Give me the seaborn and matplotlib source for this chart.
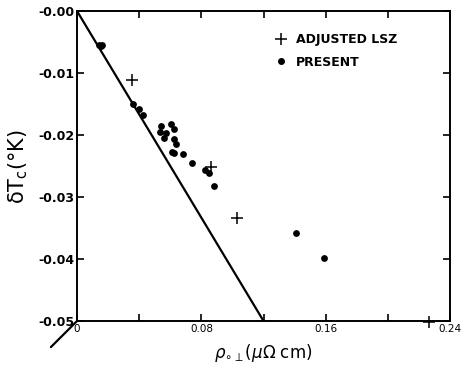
import matplotlib
matplotlib.use("Agg")
import matplotlib.pyplot as plt
import seaborn as sns
import pandas as pd
from matplotlib.lines import Line2D

# Data
present_x = [0.014, 0.0152, 0.016, 0.036, 0.040, 0.0425, 0.0542, 0.0533, 0.057, 0.0559,
             0.0606, 0.0623, 0.0627, 0.0634, 0.0613, 0.0623, 0.068, 0.0738, 0.0821,
             0.0847, 0.0879, 0.1406, 0.159]
present_y = [-0.0055, -0.0057, -0.0055, -0.01505, -0.01585, -0.0168, -0.01855, -0.01946,
             -0.0197, -0.0205, -0.01823, -0.0191, -0.0206, -0.0215, -0.0227, -0.02296,
             -0.0231, -0.02446, -0.02565, -0.0262, -0.0282, -0.0358, -0.0398]
lsz_x = [0.0352, 0.0864, 0.103, 0.2266]
lsz_y = [-0.0111, -0.0251, -0.0334, -0.0502]
line_x = [0.0, 0.12]
line_y = [0.0, -0.05]
xticks = [0, 0.04, 0.08, 0.12, 0.16, 0.20, 0.24]
xtick_labels = ["0", "", "0.08", "", "0.16", "", "0.24"]
yticks = [0.0, -0.01, -0.02, -0.03, -0.04, -0.05]
ytick_labels = ["-0.00", "-0.01", "-0.02", "-0.03", "-0.04", "-0.05"]

sns.set_style("ticks")
plt.rcParams['font.family'] = ['DejaVu Sans']
plt.rcParams.update({"text.color": "black", "axes.labelcolor": "black",
                     "xtick.color": "black", "ytick.color": "black",
                     "axes.edgecolor": "black"})

fig = plt.figure(figsize=(4.64, 3.69), dpi=100)
ax = fig.add_axes([0.166, 0.130, 0.804, 0.840])

df_p = pd.DataFrame({"x": present_x, "y": present_y})
df_l = pd.DataFrame({"x": lsz_x, "y": lsz_y})
df_line = pd.DataFrame({"x": line_x, "y": line_y})

sns.lineplot(data=df_line, x="x", y="y", ax=ax, color="black", linewidth=1.6)
sns.scatterplot(data=df_p, x="x", y="y", ax=ax, color="black", marker="o", s=24,
                edgecolor="black", linewidth=0, zorder=3)
sns.scatterplot(data=df_l, x="x", y="y", ax=ax, color="black", marker="+", s=80,
                linewidth=1.1, zorder=3, clip_on=False)

ax.set_xlim(0, 0.24)
ax.set_ylim(-0.05, 0.0)
ax.set_xticks(xticks)
ax.set_xticklabels(xtick_labels, fontsize=7.5)
ax.set_yticks(yticks)
ax.set_yticklabels(ytick_labels, fontsize=9, fontweight="bold")
ax.tick_params(direction="in", length=5, width=1.2, top=True, right=True, pad=2)
for s in ax.spines.values():
    s.set_linewidth(1.4)

ax.set_xlabel(r"$\rho_{\circ\perp}(\mu\Omega$ cm)", fontsize=12, labelpad=6)
ax.set_ylabel("δT$_\\mathregular{c}$(°K)", fontsize=15, labelpad=6)

# stub line at lower-left corner
ax.plot([0, -0.07], [0, -0.084], transform=ax.transAxes, color="black",
        linewidth=1.6, clip_on=False)

handles = [Line2D([], [], color="black", marker="+", linestyle="none", markersize=9,
                  markeredgewidth=1.1),
           Line2D([], [], color="black", marker="o", linestyle="none", markersize=4)]
ax.legend(handles, ["ADJUSTED LSZ", "PRESENT"], loc="upper left",
          bbox_to_anchor=(0.5, 0.965), frameon=False, handletextpad=0.7,
          labelspacing=0.75, prop={"size": 9, "weight": "bold"}, handlelength=1.0)

fig.savefig("out.png", dpi=100)
